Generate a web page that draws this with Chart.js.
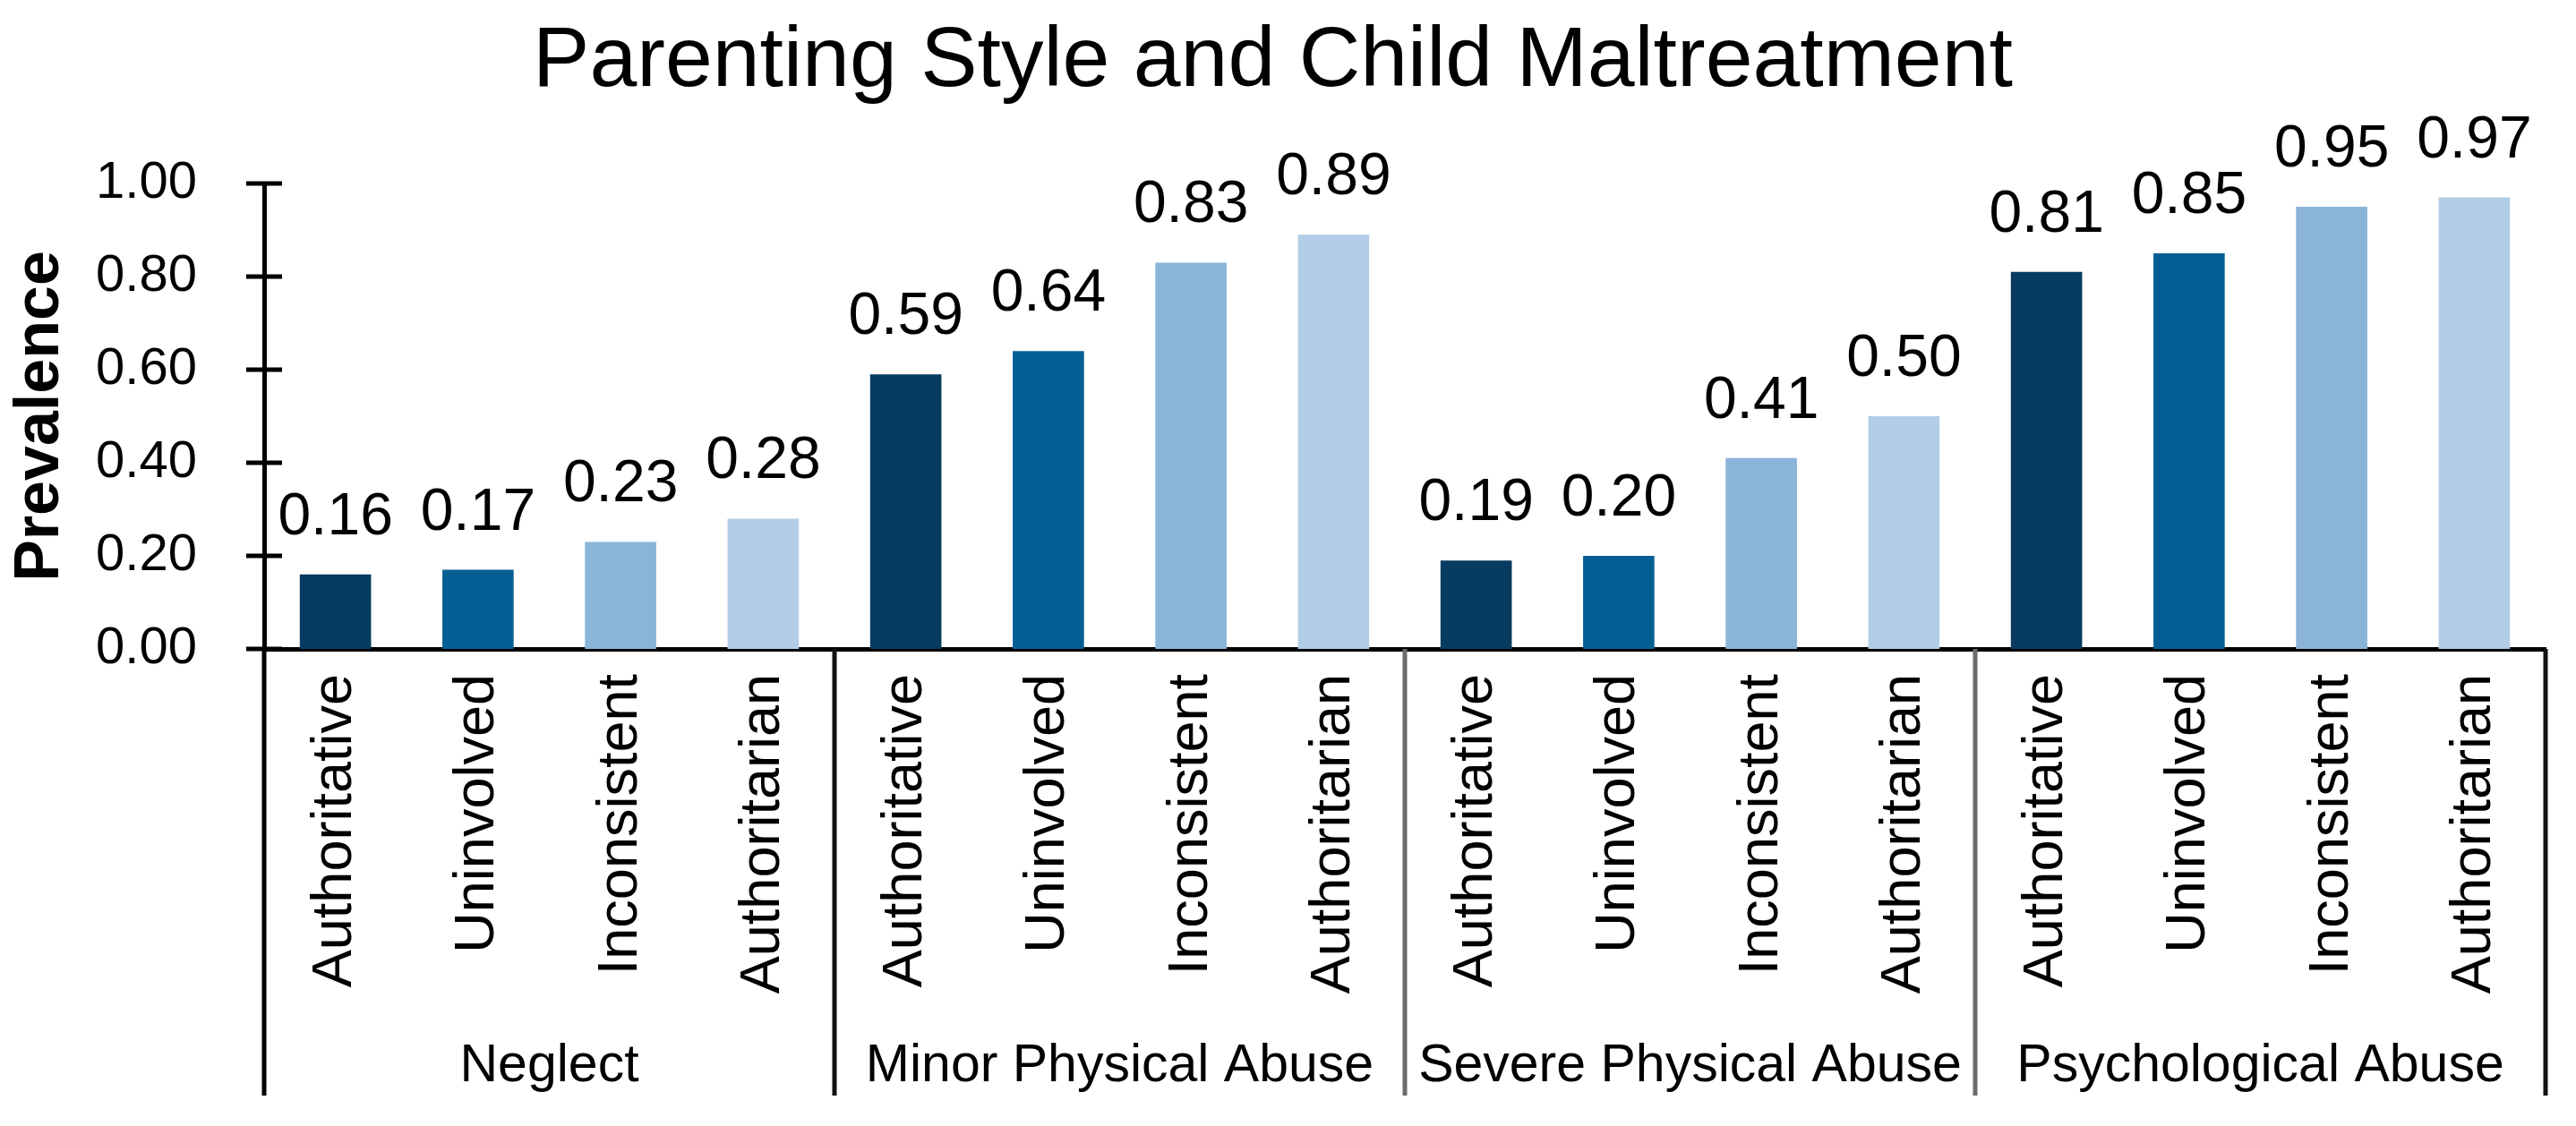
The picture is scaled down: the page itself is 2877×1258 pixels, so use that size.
<!DOCTYPE html>
<html>
<head>
<meta charset="utf-8">
<script src="https://cdn.jsdelivr.net/npm/chart.js@4.4.1/dist/chart.umd.min.js"></script>
<style>
  html, body { margin: 0; padding: 0; background: #ffffff; }
  #wrap { width: 2877px; height: 1258px; position: relative; }
</style>
</head>
<body>
<div id="wrap"><canvas id="c"></canvas></div>
<script>
// ---- data ----
const chartTitle = 'Parenting Style and Child Maltreatment';
const yAxisTitle = 'Prevalence';
const groups = ['Neglect', 'Minor Physical Abuse', 'Severe Physical Abuse', 'Psychological Abuse'];
const styles = ['Authoritative', 'Uninvolved', 'Inconsistent', 'Authoritarian'];
const neglect = [0.16, 0.17, 0.23, 0.28];
const minorPhysical = [0.59, 0.64, 0.83, 0.89];
const severePhysical = [0.19, 0.20, 0.41, 0.50];
const psychological = [0.81, 0.85, 0.95, 0.97];
const yTicks = [0.00, 0.20, 0.40, 0.60, 0.80, 1.00];
const styleColors = ['#073B60', '#065F94', '#8AB4D8', '#B3CDE6'];

const groupValues = [neglect, minorPhysical, severePhysical, psychological];
const labels = [];
const values = [];
const colors = [];
groupValues.forEach(function (arr) {
  arr.forEach(function (v, i) {
    labels.push(styles[i]);
    values.push(v);
    colors.push(styleColors[i]);
  });
});

const FONT = '"Liberation Sans", Arial, Helvetica, sans-serif';

const decorPlugin = {
  id: 'decor',
  afterDraw(chart) {
    const ctx = chart.ctx;
    const x = chart.scales.x;
    const y = chart.scales.y;
    const axisY = y.getPixelForValue(0);
    const axisX = x.left;
    const bottomY = 1224;
    ctx.save();
    // crossing tick marks on y axis
    ctx.strokeStyle = '#000';
    ctx.lineWidth = 5;
    yTicks.forEach(function (t) {
      const py = y.getPixelForValue(t);
      ctx.beginPath();
      ctx.moveTo(axisX - 20, py);
      ctx.lineTo(axisX + 20, py);
      ctx.stroke();
    });
    // group dividers
    const bounds = [];
    bounds.push(x.left);
    for (let g = 1; g < groups.length; g++) {
      const i = g * styles.length;
      bounds.push((x.getPixelForValue(i - 1) + x.getPixelForValue(i)) / 2);
    }
    bounds.push(x.right);
    const divColors = ['#000', '#111', '#6b6b6b', '#6b6b6b', '#111'];
    bounds.forEach(function (bx, k) {
      ctx.strokeStyle = divColors[k];
      ctx.lineWidth = 5;
      ctx.beginPath();
      ctx.moveTo(bx, axisY);
      ctx.lineTo(bx, bottomY);
      ctx.stroke();
    });
    // group labels
    ctx.fillStyle = '#000';
    ctx.font = '59px ' + FONT;
    ctx.textAlign = 'center';
    ctx.textBaseline = 'alphabetic';
    groups.forEach(function (gname, g) {
      const cx = (bounds[g] + bounds[g + 1]) / 2;
      ctx.fillText(gname, cx, 1208);
    });
    // value labels above bars
    const meta = chart.getDatasetMeta(0);
    ctx.font = '66px ' + FONT;
    meta.data.forEach(function (bar, i) {
      ctx.fillText(values[i].toFixed(2), bar.x, bar.y - 45);
    });
    ctx.restore();
  }
};

new Chart(document.getElementById('c'), {
  type: 'bar',
  data: {
    labels: labels,
    datasets: [{
      data: values,
      backgroundColor: colors,
      borderWidth: 0,
      barPercentage: 0.5,
      categoryPercentage: 1.0
    }]
  },
  options: {
    responsive: true,
    maintainAspectRatio: false,
    devicePixelRatio: 1,
    animation: false,
    layout: { padding: { left: 0, right: 34, top: 0, bottom: 0 } },
    plugins: {
      legend: { display: false },
      tooltip: { enabled: false },
      title: {
        display: true,
        text: chartTitle,
        color: '#000',
        font: { family: FONT, size: 95, weight: 'normal' },
        padding: { top: 13, bottom: 78 }
      }
    },
    scales: {
      x: {
        type: 'category',
        grid: { display: false, drawTicks: false },
        border: { display: true, color: '#000', width: 5 },
        ticks: {
          color: '#000',
          font: { family: FONT, size: 63 },
          minRotation: 90,
          maxRotation: 90,
          autoSkip: false,
          padding: 28
        },
        afterFit(scale) { scale.height = 1258 - 725; }
      },
      y: {
        min: 0,
        max: 1,
        afterBuildTicks(scale) { scale.ticks = yTicks.map(function (v) { return { value: v }; }); },
        grid: { display: false, drawTicks: false },
        border: { display: true, color: '#000', width: 5 },
        ticks: {
          color: '#000',
          font: { family: FONT, size: 58 },
          padding: 75,
          callback: function (v) { return Number(v).toFixed(2); }
        },
        title: {
          display: true,
          text: yAxisTitle,
          color: '#000',
          font: { family: FONT, size: 70, weight: 'bold' },
          padding: { top: 4, bottom: 0 }
        },
        afterFit(scale) { scale.width = 295; }
      }
    }
  },
  plugins: [decorPlugin]
});
</script>
</body>
</html>
